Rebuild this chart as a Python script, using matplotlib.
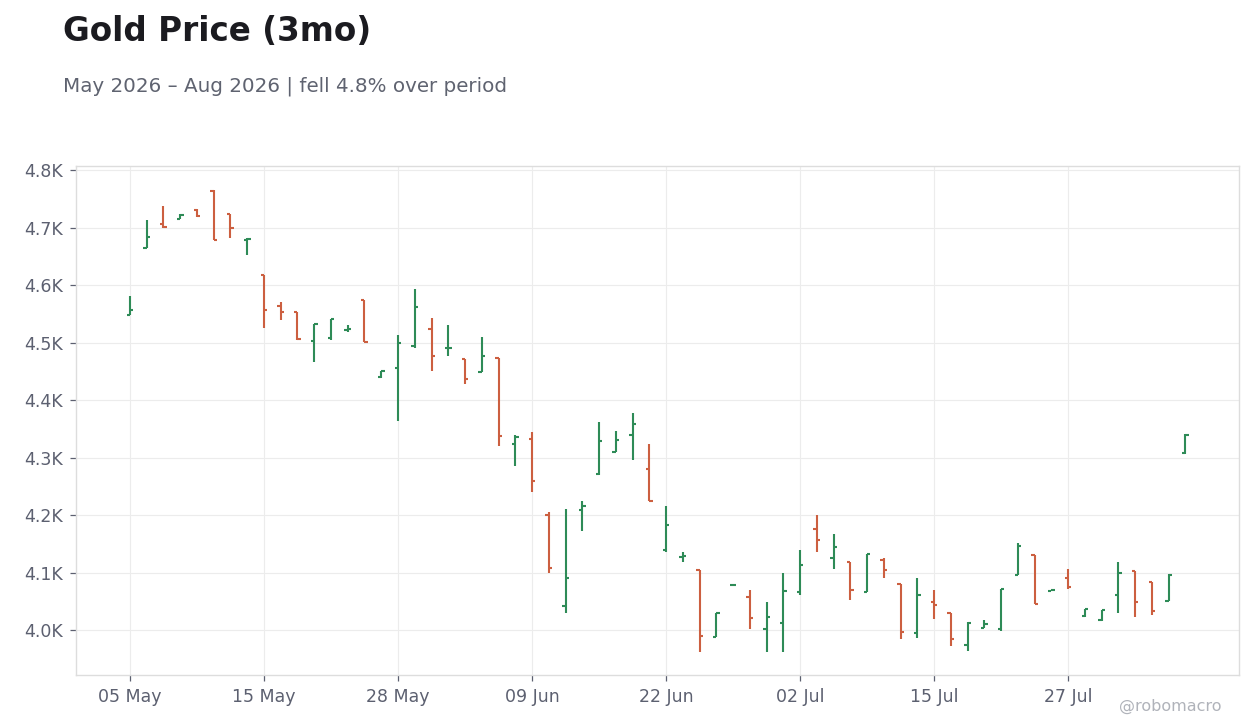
import numpy as np
import pandas as pd
import matplotlib
matplotlib.use("Agg")
import matplotlib.pyplot as plt
from matplotlib.ticker import FuncFormatter, FixedLocator

# ---- data ----
dates = pd.bdate_range("2026-05-05", "2026-08-05", freq="C",
                       holidays=["2026-05-25", "2026-06-19", "2026-07-03"])

opens = [4548, 4665, 4706, 4715, 4731, 4764, 4724, 4678, 4617, 4564, 4554,
         4503, 4508, 4521, 4574, 4440, 4455, 4494, 4524, 4490, 4472, 4448,
         4474, 4324, 4333, 4200, 4042, 4209, 4271, 4310, 4340, 4281, 4140,
         4128, 4105, 3988, 4078, 4057, 4002, 4013, 4067, 4176, 4126, 4118,
         4067, 4122, 4080, 3995, 4049, 4030, 3974, 4004, 4002, 4096, 4130,
         4068, 4091, 4025, 4018, 4061, 4103, 4084, 4051, 4308]
highs = [4581, 4713, 4737, 4723, 4733, 4766, 4724, 4681, 4617, 4570, 4554,
         4533, 4541, 4530, 4574, 4451, 4513, 4593, 4543, 4530, 4472, 4510,
         4474, 4340, 4344, 4206, 4210, 4224, 4362, 4346, 4377, 4323, 4216,
         4136, 4105, 4030, 4080, 4070, 4049, 4099, 4139, 4200, 4167, 4119,
         4132, 4125, 4081, 4090, 4070, 4030, 4015, 4017, 4072, 4151, 4130,
         4069, 4107, 4036, 4035, 4118, 4103, 4084, 4097, 4341]
lows = [4548, 4665, 4700, 4715, 4719, 4678, 4681, 4652, 4526, 4540, 4505,
        4467, 4505, 4519, 4501, 4439, 4364, 4490, 4451, 4476, 4428, 4448,
        4321, 4286, 4241, 4100, 4030, 4173, 4270, 4310, 4296, 4224, 4135,
        4119, 3962, 3988, 4078, 4002, 3962, 3962, 4061, 4135, 4107, 4053,
        4067, 4091, 3985, 3987, 4020, 3973, 3964, 4004, 3999, 4096, 4046,
        4068, 4072, 4023, 4016, 4029, 4022, 4027, 4051, 4306]
closes = [4556, 4684, 4701, 4722, 4720, 4678, 4700, 4680, 4556, 4554, 4506,
          4533, 4541, 4523, 4501, 4450, 4500, 4562, 4476, 4491, 4437, 4477,
          4338, 4336, 4260, 4108, 4090, 4216, 4329, 4331, 4359, 4224, 4182,
          4129, 3990, 4030, 4079, 4021, 4023, 4068, 4113, 4156, 4145, 4070,
          4132, 4105, 3997, 4061, 4043, 3985, 4013, 4010, 4072, 4147, 4046,
          4069, 4075, 4036, 4035, 4100, 4049, 4034, 4096, 4339]

title = "Gold Price (3mo)"
subtitle = "May 2026 \u2013 Aug 2026 | fell 4.8% over period"
watermark = "@robomacro"

UP = "#2e8b57"
DOWN = "#cc5f40"

opens = np.array(opens, float)
highs = np.array(highs, float)
lows = np.array(lows, float)
closes = np.array(closes, float)
x = np.arange(len(opens))
colors = [UP if c >= o else DOWN for o, c in zip(opens, closes)]

fig = plt.figure(figsize=(12.6, 7.28), dpi=100)
ax = fig.add_axes([75.5 / 1260, 1 - 675 / 728, (1239 - 75.5) / 1260, (675 - 166) / 728])

ax.grid(True, color="#ececec", linewidth=0.8, zorder=0)
ax.set_axisbelow(True)

hw = 0.2
lw = 1.5
ax.vlines(x, lows, highs, colors=colors, linewidth=lw, zorder=3)
ax.hlines(opens, x - hw, x, colors=colors, linewidth=lw, zorder=3)
ax.hlines(closes, x, x + hw, colors=colors, linewidth=lw, zorder=3)

ax.set_xlim(-3.25, 66.2)
ax.set_ylim(3922, 4807)

tick_pos = list(range(0, len(x), 8))
tick_labels = [d.strftime("%d %b") for d in dates[tick_pos]]
ax.xaxis.set_major_locator(FixedLocator(tick_pos))
ax.set_xticklabels(tick_labels)
ax.yaxis.set_major_locator(FixedLocator(np.arange(4000, 4801, 100)))
ax.yaxis.set_major_formatter(FuncFormatter(lambda v, p: f"{v/1000:.1f}K"))

for s in ax.spines.values():
    s.set_color("#dddddd")
    s.set_linewidth(1.0)
ax.tick_params(axis="both", colors="#5c6070", labelsize=12.5, length=4,
               width=0.9, pad=5)

fig.text(63 / 1260, 1 - 41 / 728, title, fontsize=23.5, fontweight="bold",
         color="#1b1b20", va="baseline", ha="left")
fig.text(63 / 1260, 1 - 92 / 728, subtitle, fontsize=14.3, color="#5f6370",
         va="baseline", ha="left")
fig.text(1222 / 1260, 1 - 711 / 728, watermark, fontsize=11.5, color="#b0b3ba",
         va="baseline", ha="right")

fig.savefig("out.png", dpi=100)
